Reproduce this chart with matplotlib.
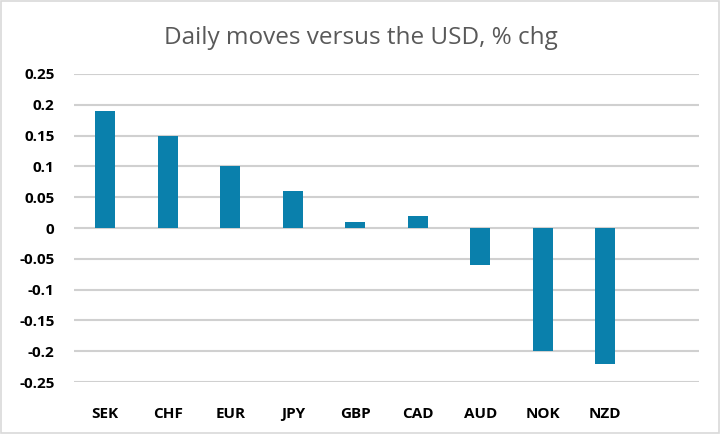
import numpy as np
import matplotlib.pyplot as plt
from matplotlib.patches import Rectangle

currencies = ['SEK', 'CHF', 'EUR', 'JPY', 'GBP', 'CAD', 'AUD', 'NOK', 'NZD']
moves = [0.19, 0.15, 0.10, 0.06, 0.01, 0.02, -0.06, -0.20, -0.22]
yticks = [-0.25, -0.2, -0.15, -0.1, -0.05, 0, 0.05, 0.1, 0.15, 0.2, 0.25]
ytick_labels = ['-0.25', '-0.2', '-0.15', '-0.1', '-0.05', '0', '0.05', '0.1', '0.15', '0.2', '0.25']

plt.rcParams['font.family'] = ['Open Sans', 'DejaVu Sans']

fig = plt.figure(figsize=(7.21, 4.34), dpi=100)
ax = fig.add_axes([0.1026, 0.1198, 0.8669, 0.7097])

x = np.arange(len(currencies))
ax.bar(x, moves, width=0.32, color='#0A80AC', zorder=3)

# one empty slot on the right, like the original
ax.set_xlim(-0.5, len(currencies) + 0.5)
ax.set_ylim(-0.25, 0.25)
ax.set_yticks(yticks)
ax.set_yticklabels(ytick_labels, fontsize=11, fontweight='bold')
ax.set_xticks(x)
ax.set_xticklabels(currencies, fontsize=11, fontweight='bold')
ax.grid(axis='y', color='#D0D0D0', linewidth=1.5, zorder=0)
ax.tick_params(axis='both', length=0)
ax.tick_params(axis='y', pad=14)
ax.tick_params(axis='x', pad=18)
for s in ax.spines.values():
    s.set_visible(False)

fig.text(0.5, 0.912, 'Daily moves versus the USD, % chg', ha='center', va='center',
         fontsize=17.5, color='#595959')

fig.patches.append(Rectangle((0.002, 0.003), 0.995, 0.994, transform=fig.transFigure,
                             fill=False, edgecolor='#D9D9D9', linewidth=1.2))

fig.savefig('out.png', dpi=100)
